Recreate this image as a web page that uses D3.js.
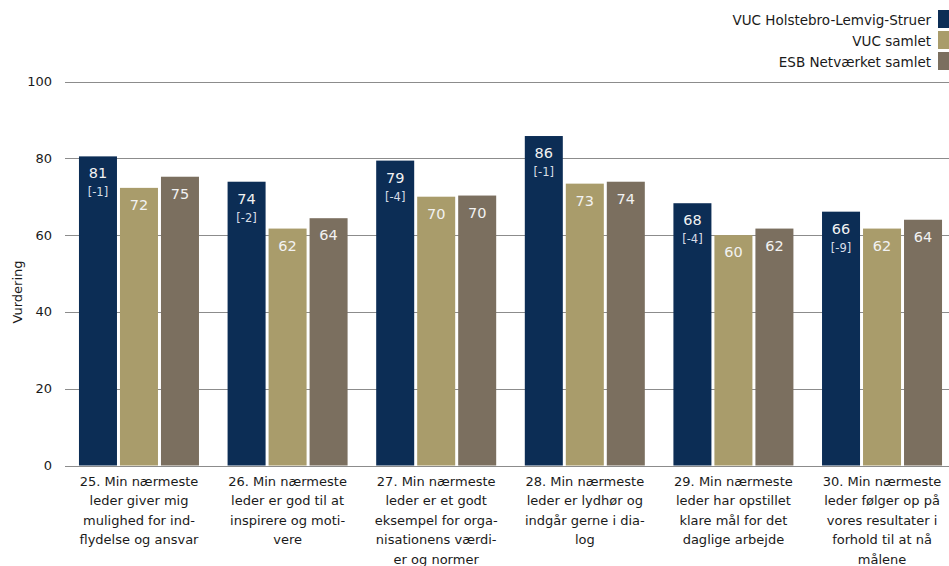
<!DOCTYPE html>
<html>
<head>
<meta charset="utf-8">
<script src="https://cdn.jsdelivr.net/npm/d3@7/dist/d3.min.js"></script>
<style>
  body { margin: 0; background: #fff; }
  svg { display: block; font-family: "DejaVu Sans", sans-serif; }
  .grid line { stroke: #8c8c8c; stroke-width: 1; }
  .tick-label { font-size: 13px; fill: #1a1a1a; }
  .cat-label { font-size: 13px; fill: #1a1a1a; }
  .legend text { font-size: 13.5px; fill: #1a1a1a; }
</style>
</head>
<body>
<div id="chart"></div>
<script>
// Leder-vurdering, spm. 25-30
(function () {
var series = ["VUC Holstebro-Lemvig-Struer", "VUC samlet", "ESB Netværket samlet"];
var colors = ["#0c2d55", "#a99c6b", "#7b6f5f"];

var categories = [
  ["25. Min nærmeste", "leder giver mig", "mulighed for ind-", "flydelse og ansvar"],
  ["26. Min nærmeste", "leder er god til at", "inspirere og moti-", "vere"],
  ["27. Min nærmeste", "leder er et godt", "eksempel for orga-", "nisationens værdi-", "er og normer"],
  ["28. Min nærmeste", "leder er lydhør og", "indgår gerne i dia-", "log"],
  ["29. Min nærmeste", "leder har opstillet", "klare mål for det", "daglige arbejde"],
  ["30. Min nærmeste", "leder følger op på", "vores resultater i", "forhold til at nå", "målene"]
];

var vucHLS   = [80.5, 73.9, 79.4, 85.8, 68.3, 66.1];
var vucAll   = [72.3, 61.7, 70.0, 73.4, 60.0, 61.7];
var esbAll   = [75.2, 64.4, 70.3, 73.9, 61.7, 64.0];
var diffs    = ["[-1]", "[-2]", "[-4]", "[-1]", "[-4]", "[-9]"];
var yTicks   = [0, 20, 40, 60, 80, 100];

var width = 949, height = 566;
var margin = {top: 82, right: -7, bottom: 100, left: 65};

var svg = d3.select("#chart").append("svg")
    .attr("width", width)
    .attr("height", height);

var x0 = d3.scaleBand()
    .domain(d3.range(categories.length))
    .range([margin.left, width - margin.right])
    .paddingInner(0.1925)
    .paddingOuter(0.094);

var x1 = d3.scaleBand()
    .domain(d3.range(series.length))
    .range([0, x0.bandwidth()])
    .paddingInner(0.073);

var y = d3.scaleLinear()
    .domain([0, 100])
    .range([height - margin.bottom - 0.5, margin.top - 0.5]);

var rows = categories.map(function(c, i) {
  return [vucHLS[i], vucAll[i], esbAll[i]];
});

// gridlines
svg.append("g")
    .attr("class", "grid")
  .selectAll("line")
  .data(yTicks)
  .enter().append("line")
    .attr("x1", margin.left)
    .attr("x2", width - margin.right)
    .attr("y1", function(d) { return Math.round(y(d)) + 0.5; })
    .attr("y2", function(d) { return Math.round(y(d)) + 0.5; });

svg.append("g")
  .selectAll("text")
  .data(yTicks)
  .enter().append("text")
    .attr("class", "tick-label")
    .attr("x", 52)
    .attr("y", function(d) { return y(d); })
    .attr("dy", "0.35em")
    .attr("text-anchor", "end")
    .text(function(d) { return d; });

svg.append("text")
    .attr("class", "tick-label")
    .attr("transform", "translate(22," + 292 + ") rotate(-90)")
    .attr("text-anchor", "middle")
    .text("Vurdering");

// bars
var group = svg.append("g")
  .selectAll("g")
  .data(rows)
  .enter().append("g")
    .attr("transform", function(d, i) { return "translate(" + x0(i) + ",0)"; });

group.selectAll("rect")
  .data(function(d) { return d; })
  .enter().append("rect")
    .attr("x", function(d, j) { return x1(j); })
    .attr("y", function(d) { return y(d); })
    .attr("width", x1.bandwidth())
    .attr("height", function(d) { return y(0) - y(d); })
    .attr("fill", function(d, j) { return colors[j]; });

group.selectAll("text.val")
  .data(function(d) { return d; })
  .enter().append("text")
    .attr("class", "val")
    .attr("x", function(d, j) { return x1(j) + x1.bandwidth() / 2; })
    .attr("y", function(d) { return y(d) + 22; })
    .attr("text-anchor", "middle")
    .style("font-size", "14.5px")
    .style("fill", "#f2f2f2")
    .text(function(d) { return Math.round(d); });

group.append("text")
    .attr("x", x1(0) + x1.bandwidth() / 2)
    .attr("y", function(d) { return y(d[0]) + 40; })
    .attr("text-anchor", "middle")
    .style("font-size", "11.5px")
    .style("fill", "#d8dde6")
    .text(function(d, i) { return diffs[i]; });

// category labels
var cat = svg.append("g")
  .selectAll("text")
  .data(categories)
  .enter().append("text")
    .attr("class", "cat-label")
    .attr("text-anchor", "middle")
    .attr("x", function(d, i) { return x0(i) + x0.bandwidth() / 2; });

cat.selectAll("tspan")
  .data(function(d) { return d; })
  .enter().append("tspan")
    .attr("x", function() { return d3.select(this.parentNode).attr("x"); })
    .attr("y", function(d, k) { return 486 + k * 19.4; })
    .text(function(d) { return d; });

// legend
var legend = svg.append("g")
    .attr("class", "legend")
  .selectAll("g")
  .data(series)
  .enter().append("g")
    .attr("transform", function(d, i) { return "translate(0," + (10 + i * 21) + ")"; });

legend.append("rect")
    .attr("x", 938)
    .attr("y", 0)
    .attr("width", 11)
    .attr("height", 18)
    .attr("fill", function(d, i) { return colors[i]; });

legend.append("text")
    .attr("x", 931)
    .attr("y", 14.5)
    .attr("text-anchor", "end")
    .text(function(d) { return d; });
})();
</script>
</body>
</html>
